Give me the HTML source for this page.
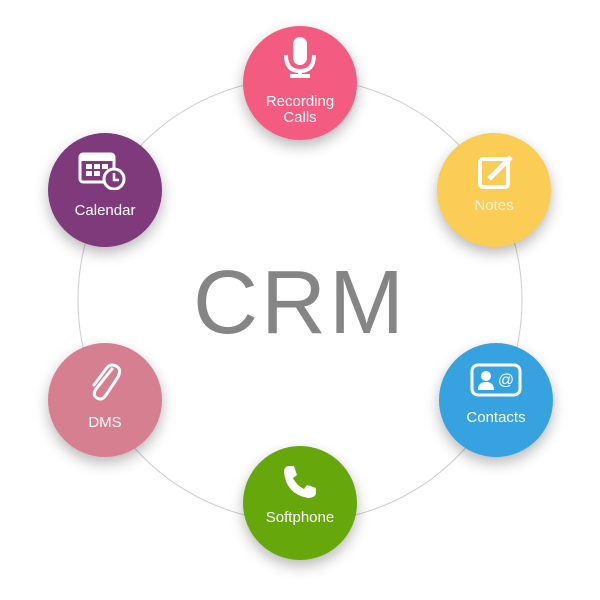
<!DOCTYPE html>
<html><head><style>
body{margin:0;width:600px;height:600px;background:#fff;position:relative;overflow:hidden;font-family:"Liberation Sans",sans-serif}
.n{position:absolute;width:114px;height:114px;border-radius:50%;box-shadow:0 6px 14px rgba(0,0,0,.28);color:#fff;text-align:center;font-size:15px;line-height:16px}
.n svg{position:absolute;left:37px;top:14px}
.n span{position:absolute;left:0;right:0}
</style></head><body>
<svg width="600" height="600" style="position:absolute;left:0;top:0">
<circle cx="300" cy="300" r="222" fill="none" stroke="#ccc" stroke-width="1"/>
<text x="300" y="333" text-anchor="middle" font-family="Liberation Sans,sans-serif" font-size="90" letter-spacing="3" fill="#858585">CRM</text>
</svg>
<div class="n" style="left:243px;top:26px;background:#f45b80">
<svg width="40" height="48" viewBox="0 0 40 42" style="left:37px;top:8px"><rect x="13" y="0" width="14" height="28" rx="7" fill="#fff"/><path d="M6 18 Q6 34 20 34 Q34 34 34 18" stroke="#fff" stroke-width="4" fill="none"/><rect x="18" y="33" width="4" height="5" fill="#fff"/><rect x="10" y="37" width="20" height="4" fill="#fff"/></svg>
<span style="top:68px">Recording<br>Calls</span></div>
<div class="n" style="left:48px;top:133px;background:#7e3a7b">
<svg width="48" height="40" viewBox="0 0 48 40" style="left:30px;top:17px"><rect x="2" y="4" width="34" height="28" rx="3" fill="none" stroke="#fff" stroke-width="3"/><rect x="2" y="4" width="34" height="7" fill="#fff"/><rect x="8" y="14" width="6" height="5" fill="#fff"/><rect x="16" y="14" width="6" height="5" fill="#fff"/><rect x="24" y="14" width="6" height="5" fill="#fff"/><rect x="8" y="21" width="6" height="5" fill="#fff"/><rect x="16" y="21" width="6" height="5" fill="#fff"/><circle cx="36" cy="29" r="10" fill="#7e3a7b" stroke="#fff" stroke-width="3"/><path d="M36 23v7h5" stroke="#fff" stroke-width="2.5" fill="none"/></svg>
<span style="top:70px">Calendar</span></div>
<div class="n" style="left:437px;top:133px;background:#fbcd55">
<svg width="40" height="40" viewBox="0 0 40 40" style="left:40px;top:20px"><rect x="3" y="6" width="28" height="28" rx="3" fill="none" stroke="#fff" stroke-width="4"/><path d="M12 26 L34 4" stroke="#fff" stroke-width="5"/></svg>
<span style="top:65px;color:#fff6dd">Notes</span></div>
<div class="n" style="left:48px;top:343px;background:#d67f90">
<svg width="40" height="44" viewBox="0 0 40 44" style="left:36px;top:16px"><path d="M28 10 L12 30 Q8 36 13 39 Q18 42 22 36 L34 18 Q38 10 32 7 Q26 4 22 10 L10 26" stroke="#fff" stroke-width="3" fill="none" stroke-linecap="round"/></svg>
<span style="top:72px">DMS</span></div>
<div class="n" style="left:439px;top:343px;background:#36a3e0">
<svg width="52" height="36" viewBox="0 0 52 36" style="left:31px;top:20px"><rect x="2" y="2" width="48" height="30" rx="6" fill="none" stroke="#fff" stroke-width="3"/><circle cx="16" cy="13" r="5" fill="#fff"/><path d="M8 27 Q8 19 16 19 Q24 19 24 27Z" fill="#fff"/><text x="36" y="22" font-size="16" font-family="Liberation Sans" fill="#fff" text-anchor="middle">@</text></svg>
<span style="top:67px">Contacts</span></div>
<div class="n" style="left:243px;top:446px;background:#66a80c">
<svg width="40" height="40" viewBox="0 0 40 40" style="left:37px;top:16px"><path d="M8 4 L14 4 L17 13 L13 16 Q17 24 24 27 L27 23 L36 26 L36 32 Q34 36 28 36 Q6 32 4 10 Q4 5 8 4Z" fill="#fff"/></svg>
<span style="top:64px">Softphone</span></div>
</body></html>
